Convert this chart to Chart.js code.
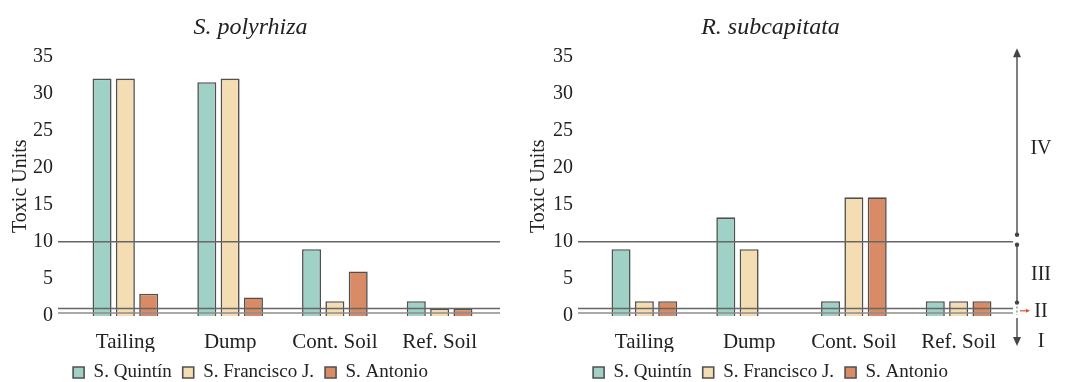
<!DOCTYPE html>
<html>
<head>
<meta charset="utf-8">
<script src="https://cdn.jsdelivr.net/npm/chart.js@4.4.0/dist/chart.umd.min.js"></script>
<style>
  body { margin: 0; background: #fff; }
  #wrap { position: relative; width: 1070px; height: 382px; overflow: hidden; }
  #c1 { position: absolute; left: 0; top: 0; }
  #c2 { position: absolute; left: 520px; top: 0; }
</style>
</head>
<body>
<div id="wrap">
  <canvas id="c1" width="530" height="392"></canvas>
  <canvas id="c2" width="550" height="392"></canvas>
</div>
<script>
var sites = ['Tailing', 'Dump', 'Cont. Soil', 'Ref. Soil'];
var seriesNames = ['S. Quintín', 'S. Francisco J.', 'S. Antonio'];
var seriesColors = ['#9fd1c6', '#f5ddb3', '#d98b66'];

// S. polyrhiza
var spQuintin = [32, 31.5, 9, 2];
var spFrancisco = [32, 32, 2, 1];
var spAntonio = [3, 2.5, 6, 1];

// R. subcapitata
var rsQuintin = [9, 13.3, 2, 2];
var rsFrancisco = [2, 9, 16, 2];
var rsAntonio = [2, null, 16, 2];

var yTicks = [0, 5, 10, 15, 20, 25, 30, 35];
var classLimits = [0.4, 1, 10];     // TU class boundaries
var classLabels = ['I', 'II', 'III', 'IV'];

var serif = "'Liberation Serif', 'Times New Roman', serif";
var ink = '#222';

// horizontal lines at the class boundaries, drawn over the bars
var thresholds = {
  id: 'thresholds',
  afterDatasetsDraw: function(chart, args, opts) {
    var ctx = chart.ctx, y = chart.scales.y, a = chart.chartArea;
    ctx.save();
    ctx.lineWidth = 1.5;
    classLimits.forEach(function(v, i) {
      var py = y.getPixelForValue(v);
      ctx.strokeStyle = i == 0 ? '#8c8c8c' : '#666';
      ctx.beginPath();
      ctx.moveTo(a.left - opts.left, py);
      ctx.lineTo(a.right + opts.right, py);
      ctx.stroke();
    });
    ctx.restore();
  }
};

function arrowHead(ctx, x, y, dx, dy) {
  // tip at (x, y), pointing along (dx, dy)
  ctx.beginPath();
  ctx.moveTo(x, y);
  ctx.lineTo(x - dx * 9 - dy * 4, y - dy * 9 - dx * 4);
  ctx.lineTo(x - dx * 9 + dy * 4, y - dy * 9 + dx * 4);
  ctx.closePath();
  ctx.fill();
}
function dot(ctx, x, y) {
  ctx.beginPath();
  ctx.arc(x, y, 2.2, 0, Math.PI * 2);
  ctx.fill();
}

// class ranges I-IV on the right of the second chart
var classBar = {
  id: 'classBar',
  afterDraw: function(chart) {
    var ctx = chart.ctx, y = chart.scales.y, a = chart.chartArea;
    var x = a.right + 6;
    var p0 = y.getPixelForValue(0);
    var pA = y.getPixelForValue(classLimits[0]);
    var pB = y.getPixelForValue(classLimits[1]);
    var pC = y.getPixelForValue(classLimits[2]);
    var pTop = y.getPixelForValue(y.max);
    ctx.save();
    ctx.strokeStyle = '#555';
    ctx.fillStyle = '#444';
    ctx.lineWidth = 1.5;
    // IV
    ctx.beginPath(); ctx.moveTo(x, pTop - 4); ctx.lineTo(x, pC - 7); ctx.stroke();
    arrowHead(ctx, x, pTop - 8, 0, -1);
    dot(ctx, x, pC - 7);
    // III
    ctx.beginPath(); ctx.moveTo(x, pC + 3); ctx.lineTo(x, pB - 6); ctx.stroke();
    dot(ctx, x, pC + 3);
    dot(ctx, x, pB - 6);
    // II
    ctx.setLineDash([2, 2]);
    ctx.strokeStyle = '#999';
    ctx.beginPath(); ctx.moveTo(x, pB - 2); ctx.lineTo(x, p0 - 1); ctx.stroke();
    ctx.setLineDash([]);
    ctx.strokeStyle = '#e0502a';
    ctx.fillStyle = '#e0502a';
    var pm = (pA + pB) / 2;
    ctx.lineWidth = 1.2;
    ctx.beginPath(); ctx.moveTo(x + 3, pm); ctx.lineTo(x + 10, pm); ctx.stroke();
    ctx.beginPath();
    ctx.moveTo(x + 13, pm); ctx.lineTo(x + 9, pm - 2); ctx.lineTo(x + 9, pm + 2); ctx.closePath();
    ctx.fill();
    // I
    ctx.lineWidth = 1.5;
    ctx.strokeStyle = '#555';
    ctx.fillStyle = '#444';
    ctx.beginPath(); ctx.moveTo(x, p0 + 2); ctx.lineTo(x, p0 + 26); ctx.stroke();
    arrowHead(ctx, x, p0 + 30, 0, 1);

    ctx.fillStyle = ink;
    ctx.font = '20px ' + serif;
    ctx.textAlign = 'center';
    ctx.textBaseline = 'middle';
    var lx = x + 24;
    ctx.fillText(classLabels[3], lx, (pTop + pC) / 2);
    ctx.fillText(classLabels[2], lx, (pC + pB) / 2);
    ctx.fillText(classLabels[1], lx, pm + 1);
    ctx.fillText(classLabels[0], lx, p0 + 26);
    ctx.restore();
  }
};

function makeChart(id, title, q, f, a, pad, lineExt, extra) {
  var sets = [q, f, a].map(function(vals, i) {
    return {
      label: seriesNames[i],
      data: vals,
      backgroundColor: seriesColors[i],
      borderColor: '#505050',
      borderWidth: 1.6,
      categoryPercentage: 0.668,
      barPercentage: 0.815
    };
  });
  return new Chart(document.getElementById(id), {
    type: 'bar',
    data: { labels: sites, datasets: sets },
    plugins: [thresholds].concat(extra || []),
    options: {
      responsive: false,
      animation: false,
      layout: { padding: { left: pad.left, right: pad.right, top: 0, bottom: 0 } },
      plugins: {
        thresholds: lineExt,
        tooltip: { enabled: false },
        title: {
          display: true,
          text: title,
          color: ink,
          font: { family: serif, size: 24, style: 'italic', weight: 'normal' },
          padding: { top: 13, bottom: 14.5 }
        },
        legend: {
          position: 'bottom',
          labels: {
            color: ink,
            boxWidth: 11,
            boxHeight: 11,
            padding: 11,
            font: { family: serif, size: 19 }
          }
        }
      },
      scales: {
        x: {
          grid: { display: false, drawTicks: false },
          border: { display: false },
          afterFit: function(s) { s.height = 36; },
          ticks: { color: ink, padding: 13.4, font: { family: serif, size: 21 } }
        },
        y: {
          min: 0,
          max: 35,
          grid: { display: false, drawTicks: false },
          border: { display: false },
          afterFit: function(s) { s.width = pad.axis; },
          afterBuildTicks: function(s) { s.ticks = yTicks.map(function(v) { return { value: v }; }); },
          ticks: { color: ink, padding: pad.tick, font: { family: serif, size: 20 } },
          title: {
            display: true,
            text: 'Toxic Units',
            color: ink,
            padding: { top: pad.titleTop, bottom: 0 },
            font: { family: serif, size: 20, lineHeight: 1 }
          }
        }
      }
    }
  });
}

var pL = { left: 9, right: 38, axis: 64, tick: 20, titleTop: 2 };
var pR = { left: 10, right: 59, axis: 62, tick: 19, titleTop: -1 };

makeChart('c1', 'S. polyrhiza', spQuintin, spFrancisco, spAntonio, pL, { left: 15, right: 8 });
makeChart('c2', 'R. subcapitata', rsQuintin, rsFrancisco, rsAntonio, pR, { left: 14, right: 2 }, [classBar]);
</script>
</body>
</html>
